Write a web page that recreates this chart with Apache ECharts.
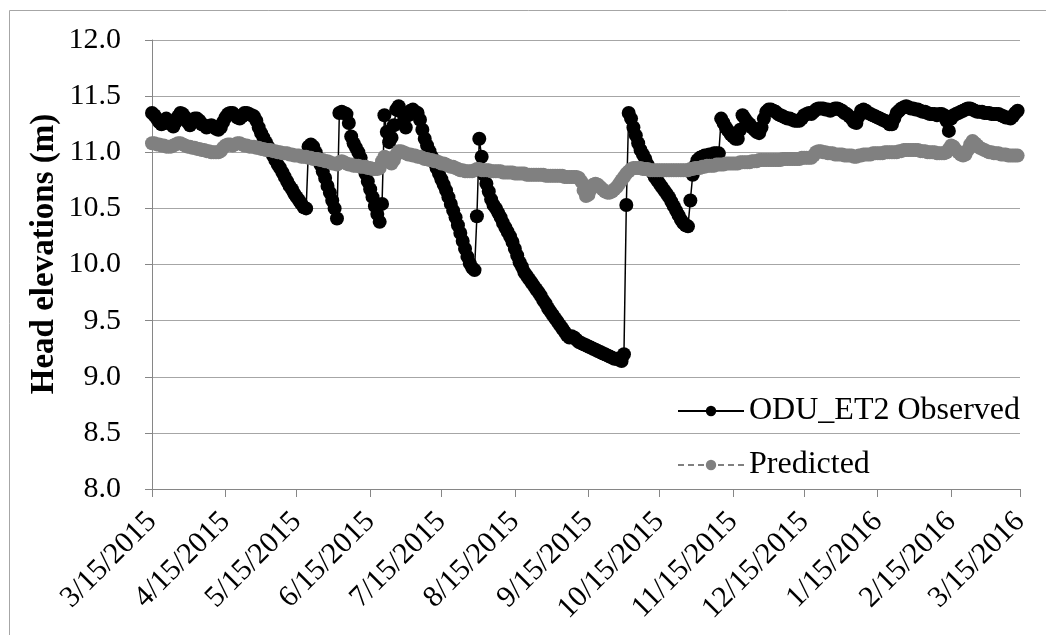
<!DOCTYPE html>
<html>
<head>
<meta charset="utf-8">
<script src="https://cdn.jsdelivr.net/npm/echarts@6/dist/echarts.min.js"></script>
<style>
  html, body { margin: 0; padding: 0; background: #ffffff; }
  #chart { width: 1046px; height: 635px; }
</style>
</head>
<body>
<div id="chart"></div>
<script>
// Daily head elevations (m), one value per day starting 3/15/2015
const startDate = '3/15/2015';
const seriesNames = ['ODU_ET2 Observed', 'Predicted'];
const tickLabels = ['3/15/2015', '4/15/2015', '5/15/2015', '6/15/2015', '7/15/2015', '8/15/2015',
  '9/15/2015', '10/15/2015', '11/15/2015', '12/15/2015', '1/15/2016', '2/15/2016', '3/15/2016'];

const observed = [
  11.35, 11.33, 11.30, 11.27, 11.25, 11.27, 11.30, 11.28, 11.25, 11.23,
  11.27, 11.32, 11.35, 11.34, 11.31, 11.27, 11.24, 11.27, 11.30, 11.30,
  11.28, 11.25, 11.24, 11.22, 11.23, 11.24, 11.23, 11.21, 11.20, 11.22,
  11.27, 11.31, 11.34, 11.35, 11.35, 11.33, 11.31, 11.30, 11.32, 11.35,
  11.35, 11.34, 11.33, 11.32, 11.28, 11.22, 11.17, 11.13, 11.09, 11.05,
  11.01, 10.97, 10.93, 10.89, 10.86, 10.82, 10.78, 10.74, 10.70, 10.67,
  10.63, 10.60, 10.57, 10.54, 10.51, 10.50, 11.05, 11.07, 11.05, 11.00,
  10.95, 10.89, 10.83, 10.77, 10.70, 10.64, 10.57, 10.50, 10.41, 11.35,
  11.36, 11.35, 11.34, 11.26, 11.14, 11.08, 11.04, 11.00, 10.95, 10.88,
  10.81, 10.74, 10.67, 10.60, 10.52, 10.45, 10.38, 10.54, 11.33, 11.18,
  11.09, 11.13, 11.24, 11.38, 11.41, 11.36, 11.27, 11.22, 11.33, 11.37,
  11.38, 11.36, 11.35, 11.29, 11.20, 11.12, 11.06, 11.01, 10.96, 10.91,
  10.86, 10.81, 10.76, 10.71, 10.66, 10.60, 10.54, 10.48, 10.42, 10.35,
  10.28, 10.21, 10.14, 10.07, 10.01, 9.97, 9.95, 10.43, 11.12, 10.96,
  10.80, 10.72, 10.65, 10.58, 10.53, 10.50, 10.46, 10.42, 10.37, 10.33,
  10.29, 10.25, 10.20, 10.14, 10.08, 10.02, 9.98, 9.93, 9.90, 9.87,
  9.84, 9.81, 9.78, 9.75, 9.72, 9.68, 9.65, 9.61, 9.58, 9.55,
  9.52, 9.49, 9.46, 9.43, 9.40, 9.37, 9.35, 9.36, 9.35, 9.33,
  9.31, 9.30, 9.29, 9.28, 9.27, 9.26, 9.25, 9.24, 9.23, 9.22,
  9.21, 9.20, 9.19, 9.18, 9.17, 9.16, 9.16, 9.15, 9.14, 9.20,
  10.53, 11.35, 11.30, 11.22, 11.15, 11.08, 11.02, 10.98, 10.94, 10.89,
  10.85, 10.82, 10.78, 10.75, 10.72, 10.69, 10.66, 10.63, 10.60, 10.56,
  10.52, 10.48, 10.44, 10.40, 10.37, 10.35, 10.34, 10.57, 10.80, 10.88,
  10.93, 10.95, 10.96, 10.97, 10.97, 10.98, 10.98, 10.99, 10.99, 10.99,
  11.30, 11.26, 11.22, 11.19, 11.16, 11.14, 11.12, 11.12, 11.20, 11.33,
  11.30, 11.27, 11.25, 11.22, 11.20, 11.18, 11.17, 11.22, 11.30, 11.36,
  11.38, 11.38, 11.37, 11.36, 11.34, 11.33, 11.32, 11.31, 11.30, 11.30,
  11.29, 11.28, 11.28, 11.28, 11.30, 11.33, 11.34, 11.35, 11.34, 11.36,
  11.38, 11.39, 11.39, 11.39, 11.38, 11.38, 11.37, 11.38, 11.39, 11.39,
  11.38, 11.37, 11.35, 11.34, 11.32, 11.30, 11.27, 11.26, 11.32, 11.37,
  11.38, 11.37, 11.35, 11.34, 11.33, 11.32, 11.31, 11.30, 11.29, 11.28,
  11.27, 11.25, 11.25, 11.30, 11.35, 11.37, 11.39, 11.40, 11.41, 11.40,
  11.39, 11.39, 11.38, 11.38, 11.37, 11.36, 11.36, 11.35, 11.34, 11.34,
  11.34, 11.33, 11.34, 11.34, 11.33, 11.28, 11.19, 11.30, 11.33, 11.34,
  11.35, 11.36, 11.37, 11.38, 11.39, 11.39, 11.38, 11.37, 11.36, 11.36,
  11.36, 11.35, 11.35, 11.35, 11.34, 11.34, 11.34, 11.34, 11.33, 11.32,
  11.31, 11.31, 11.30, 11.32, 11.35, 11.37
];

const predicted = [
  11.08, 11.08, 11.07, 11.07, 11.06, 11.06, 11.05, 11.05, 11.05, 11.06,
  11.07, 11.08, 11.08, 11.07, 11.06, 11.05, 11.05, 11.04, 11.04, 11.03,
  11.03, 11.02, 11.02, 11.01, 11.01, 11.00, 11.00, 11.00, 11.00, 11.01,
  11.04, 11.06, 11.07, 11.07, 11.06, 11.07, 11.08, 11.08, 11.07, 11.06,
  11.06, 11.05, 11.05, 11.05, 11.04, 11.04, 11.03, 11.03, 11.02, 11.02,
  11.02, 11.01, 11.01, 11.00, 11.00, 10.99, 10.99, 10.99, 10.98, 10.98,
  10.97, 10.97, 10.97, 10.96, 10.96, 10.96, 10.95, 10.95, 10.94, 10.94,
  10.94, 10.93, 10.93, 10.92, 10.92, 10.91, 10.90, 10.90, 10.89, 10.91,
  10.92, 10.91, 10.90, 10.89, 10.89, 10.88, 10.88, 10.88, 10.87, 10.87,
  10.87, 10.86, 10.86, 10.85, 10.85, 10.85, 10.86, 10.92, 10.96, 10.95,
  10.92, 10.90, 10.93, 10.98, 11.01, 11.01, 11.00, 10.99, 10.98, 10.98,
  10.97, 10.97, 10.96, 10.96, 10.95, 10.94, 10.94, 10.93, 10.93, 10.92,
  10.92, 10.91, 10.90, 10.90, 10.89, 10.88, 10.87, 10.87, 10.86, 10.85,
  10.84, 10.84, 10.83, 10.83, 10.83, 10.83, 10.84, 10.85, 10.85, 10.84,
  10.84, 10.84, 10.84, 10.83, 10.83, 10.83, 10.83, 10.83, 10.82, 10.82,
  10.82, 10.82, 10.82, 10.81, 10.81, 10.81, 10.81, 10.81, 10.80, 10.80,
  10.80, 10.80, 10.80, 10.80, 10.80, 10.80, 10.79, 10.79, 10.79, 10.79,
  10.79, 10.79, 10.79, 10.79, 10.78, 10.78, 10.78, 10.78, 10.78, 10.78,
  10.77, 10.74, 10.66, 10.61, 10.62, 10.67, 10.71, 10.72, 10.71, 10.69,
  10.67, 10.65, 10.64, 10.64, 10.65, 10.67, 10.69, 10.72, 10.75, 10.78,
  10.81, 10.83, 10.85, 10.86, 10.86, 10.86, 10.86, 10.85, 10.85, 10.85,
  10.84, 10.84, 10.84, 10.84, 10.84, 10.84, 10.84, 10.84, 10.84, 10.84,
  10.84, 10.84, 10.84, 10.84, 10.84, 10.84, 10.84, 10.85, 10.85, 10.86,
  10.86, 10.86, 10.87, 10.87, 10.88, 10.88, 10.88, 10.88, 10.89, 10.89,
  10.89, 10.89, 10.90, 10.90, 10.90, 10.90, 10.90, 10.90, 10.91, 10.91,
  10.91, 10.91, 10.91, 10.92, 10.92, 10.92, 10.93, 10.93, 10.93, 10.93,
  10.93, 10.93, 10.93, 10.93, 10.93, 10.93, 10.94, 10.94, 10.94, 10.94,
  10.94, 10.94, 10.94, 10.94, 10.95, 10.95, 10.95, 10.95, 10.95, 10.97,
  11.00, 11.01, 11.01, 11.00, 11.00, 10.99, 10.99, 10.99, 10.98, 10.98,
  10.98, 10.98, 10.97, 10.97, 10.97, 10.97, 10.96, 10.96, 10.97, 10.97,
  10.98, 10.98, 10.98, 10.98, 10.99, 10.99, 10.99, 10.99, 10.99, 11.00,
  11.00, 11.00, 11.00, 11.00, 11.00, 11.01, 11.01, 11.02, 11.02, 11.02,
  11.02, 11.02, 11.02, 11.02, 11.01, 11.01, 11.01, 11.00, 11.00, 11.00,
  11.00, 10.99, 10.99, 10.99, 10.99, 11.00, 11.03, 11.06, 11.05, 11.02,
  11.00, 10.98, 10.97, 10.98, 11.02, 11.07, 11.10, 11.08, 11.06, 11.04,
  11.03, 11.02, 11.01, 11.00, 11.00, 10.99, 10.99, 10.99, 10.98, 10.98,
  10.98, 10.97, 10.97, 10.97, 10.97, 10.97
];

// Convert an M/D/YYYY string to a day offset from the first reading
const DAY_MS = 86400000;
function parseMDY(s) {
  const [m, d, y] = s.split('/').map(Number);
  return Date.UTC(y, m - 1, d);
}
const t0 = parseMDY(startDate);
const dayOf = s => Math.round((parseMDY(s) - t0) / DAY_MS);
const tickDays = tickLabels.map(dayOf);
const labelByDay = {};
tickLabels.forEach((l, i) => { labelByDay[tickDays[i]] = l; });

const observedData = observed.map((v, i) => [i, v]);
const predictedData = predicted.map((v, i) => [i, v]);

const serif = '"Liberation Serif", "Times New Roman", serif';
const chart = echarts.init(document.getElementById('chart'), null, { renderer: 'canvas' });

chart.setOption({
  animation: false,
  backgroundColor: '#ffffff',
  grid: { left: 152, right: 26, top: 40, bottom: 146, containLabel: false },
  xAxis: {
    type: 'value',
    min: tickDays[0],
    max: tickDays[tickDays.length - 1],
    axisLine: { show: true, lineStyle: { color: '#868686', width: 1 } },
    axisTick: { show: true, inside: false, length: 8, customValues: tickDays,
      lineStyle: { color: '#868686', width: 1 } },
    axisLabel: {
      customValues: tickDays,
      rotate: 45,
      margin: 28,
      color: '#000000',
      fontFamily: serif,
      fontSize: 30,
      formatter: v => labelByDay[v] || ''
    },
    splitLine: { show: false }
  },
  yAxis: {
    type: 'value',
    min: 8,
    max: 12,
    interval: 0.5,
    axisLine: { show: true, lineStyle: { color: '#868686', width: 1 } },
    axisTick: { show: true, inside: false, length: 7, lineStyle: { color: '#868686', width: 1 } },
    axisLabel: {
      margin: 31,
      color: '#000000',
      fontFamily: serif,
      fontSize: 30,
      formatter: v => v.toFixed(1)
    },
    splitLine: { show: true, lineStyle: { color: '#a6a6a6', width: 1 } }
  },
  legend: {
    orient: 'vertical',
    left: 672,
    top: 389,
    itemWidth: 66,
    itemHeight: 13,
    itemGap: 20,
    data: seriesNames,
    textStyle: { color: '#000000', fontFamily: serif, fontSize: 32, lineHeight: 34 }
  },
  graphic: [
    {
      type: 'rect',
      silent: true,
      shape: { x: 9.5, y: 10.5, width: 1100, height: 700 },
      style: { fill: 'none', stroke: '#a6a6a6', lineWidth: 1 }
    },
    {
      type: 'text',
      silent: true,
      x: 44,
      y: 254,
      rotation: Math.PI / 2,
      style: {
        text: 'Head elevations (m)',
        font: 'bold 33px ' + serif,
        fill: '#000000',
        textAlign: 'center',
        textVerticalAlign: 'middle'
      }
    }
  ],
  series: [
    {
      name: seriesNames[0],
      type: 'line',
      data: observedData,
      symbol: 'circle',
      symbolSize: 14,
      showSymbol: true,
      itemStyle: { color: '#000000' },
      lineStyle: { color: '#000000', width: 1.5 },
      z: 2
    },
    {
      name: seriesNames[1],
      type: 'line',
      data: predictedData,
      symbol: 'circle',
      symbolSize: 14,
      showSymbol: true,
      itemStyle: { color: '#808080' },
      lineStyle: { color: '#808080', width: 2, type: [6, 4] },
      z: 3
    }
  ]
});
</script>
</body>
</html>
